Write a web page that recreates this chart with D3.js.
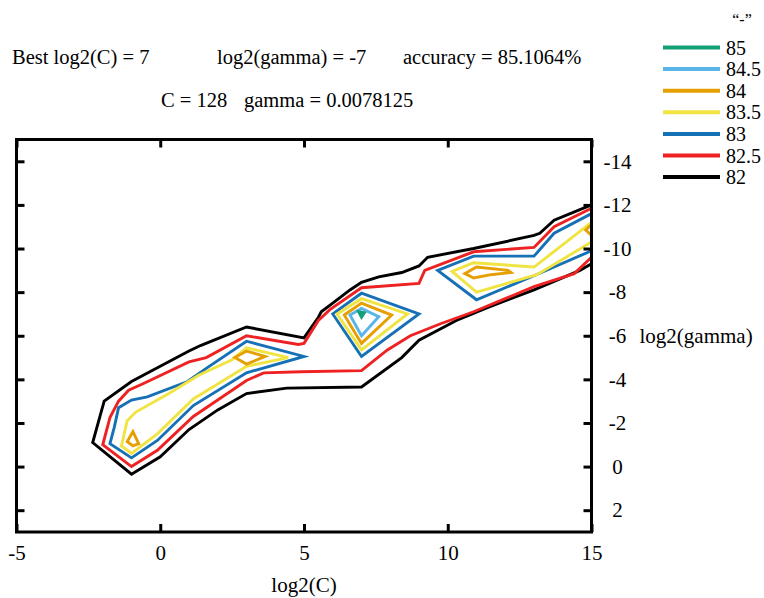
<!DOCTYPE html>
<html>
<head>
<meta charset="utf-8">
<script src="https://cdn.jsdelivr.net/npm/d3@7"></script>
<style>
  body { margin: 0; background: #fff; }
  svg text { font-family: "Liberation Serif", "Times New Roman", serif !important; fill: #000; }
</style>
</head>
<body>
<div class="chart"></div>
<script>
// contour levels (accuracy %) as listed in the key, with their colours
const levels = ["85", "84.5", "84", "83.5", "83", "82.5", "82"];
const levelColors = ["#13a077", "#59b4e8", "#e69f00", "#f0e442", "#1670b6", "#ee2222", "#000000"];
const legendTitle = "\u201c-\u201d";

// best point of the grid search
const bestLog2C = 7, bestLog2Gamma = -7, bestAccuracy = "85.1064%";
const bestC = 128, bestGamma = 0.0078125;

const xTicks = [-5, 0, 5, 10, 15];
const yTicks = [-14, -12, -10, -8, -6, -4, -2, 0, 2];

// contour paths, points are [log2(C), log2(gamma)]
const line82 = [[15,-12.0],[13.7,-11.3],[13.2,-10.7],[13,-10.6],[10.9,-10.0],[9.3,-9.6],[9,-9.2],[8.4,-8.9],
  [7.6,-8.7],[7,-8.45],[6.6,-8.1],[6,-7.5],[5.6,-7.1],[5.5,-6.85],[5,-5.9],[3,-6.4],[1.4,-5.55],[1,-5.3],
  [-1,-3.9],[-1.95,-3.0],[-2.35,-1.1],[-1,0.35],[0,-0.45],[1,-1.7],[2,-2.6],[3,-3.35],[4.4,-3.6],[7,-3.65],
  [8.4,-5.0],[9,-5.8],[10.3,-6.7],[11.4,-7.3],[13,-8.1],[14.6,-9.0],[15,-9.3]];
const line825 = [[15,-11.85],[13.7,-11],[13,-10.05],[10.9,-9.85],[9.2,-9],[9,-8.4],[7,-8.2],[5.9,-7.2],
  [5.5,-6.7],[5,-5.65],[4.8,-5.6],[3,-6],[1.6,-5],[1,-4.8],[-0.6,-3.8],[-1.1,-3.5],[-1.45,-3],[-1.75,-2.25],
  [-2,-1],[-1,0],[-0.1,-0.75],[1.15,-2.3],[3,-3.95],[3.6,-4.3],[4.9,-4.35],[7,-4.4],[7.9,-5.35],[8.7,-6],
  [9.75,-6.55],[10.9,-7.1],[13,-8.25],[14.4,-8.85],[15,-9.6]];
const loop83a = [[-1.75,-1.05],[-1.6,-1.8],[-1.45,-2.7],[-1,-3.05],[-0.45,-3.2],[0.95,-3.9],[1.65,-4.55],
  [3,-5.75],[5,-5.05],[3,-4.3],[1.15,-2.8],[-0.1,-1.2],[-1,-0.4]];
const loop83b = [[6,-7],[7,-7.95],[9,-7],[7,-5.05]];
const line83c = [[15,-11.6],[13.7,-10.7],[13,-9.65],[10.9,-9.65],[9.65,-9.0],[11,-7.65],[13,-8.75],[15,-9.9]];
const loop835a = [[-1.35,-0.95],[-1.15,-2.1],[-0.85,-2.5],[0.3,-3.35],[1.35,-4.2],[2.5,-4.9],[3,-5.45],
  [4.45,-5.0],[3,-4.6],[1.15,-3.1],[-0.1,-1.5],[-1,-0.6]];
const loop835b = [[6.15,-7],[7,-7.7],[8.6,-7],[7,-5.35]];
const line835c = [[15,-11.2],[13,-9.15],[10.9,-9.35],[10.15,-8.95],[11,-8.0],[13.1,-8.8],[15,-10.3]];
const loop84a = [[-0.95,-1.6],[-0.75,-1.05],[-0.95,-0.95],[-1.15,-1.15]];
const loop84b = [[2.6,-5.0],[3,-5.3],[3.65,-5.05],[3,-4.7]];
const loop84c = [[6.4,-6.95],[7,-7.5],[8.05,-6.95],[7,-5.65]];
const loop84d = [[10.6,-8.85],[11,-9.15],[12.1,-9.0],[12.2,-8.9],[11.5,-8.8],[10.9,-8.65]];
const line84e = [[15,-11.1],[14.8,-10.85],[15,-10.6]];
const loop845 = [[6.6,-6.95],[7,-7.25],[7.6,-6.87],[7,-6.0]];
const loop85 = [[6.9,-7.1],[7.1,-7.05],[7.0,-6.85]];

const contours = [
  { level: "82", points: line82, closed: false },
  { level: "82.5", points: line825, closed: false },
  { level: "83", points: loop83a, closed: true },
  { level: "83", points: loop83b, closed: true },
  { level: "83", points: line83c, closed: false },
  { level: "83.5", points: loop835a, closed: true },
  { level: "83.5", points: loop835b, closed: true },
  { level: "83.5", points: line835c, closed: false },
  { level: "84", points: loop84a, closed: true },
  { level: "84", points: loop84b, closed: true },
  { level: "84", points: loop84c, closed: true },
  { level: "84", points: loop84d, closed: true },
  { level: "84", points: line84e, closed: false },
  { level: "84.5", points: loop845, closed: true },
  { level: "85", points: loop85, closed: true }
];

var margin = { top: 139.5, right: 172.5, bottom: 66, left: 16.5 };
var width = 764 - margin.left - margin.right,
  height = 598 - margin.top - margin.bottom;

const svg = d3.select(".chart").append("svg")
  .attr("width", 764)
  .attr("height", 598)
  .style("display", "block");

svg.append("rect").attr("width", 764).attr("height", 598).attr("fill", "#fff");

const g = svg.append("g")
  .attr("transform", "translate(" + margin.left + "," + margin.top + ")");

const x = d3.scaleLinear().domain([-5, 15]).range([0, width]);
const y = d3.scaleLinear().domain([3, -15]).range([height, 0]);
const color = d3.scaleOrdinal().domain(levels).range(levelColors);

//////////////////////////////////////////////////////////////// contours
const lineOpen = d3.line().x(d => x(d[0])).y(d => y(d[1]));
const lineClosed = d3.line().x(d => x(d[0])).y(d => y(d[1])).curve(d3.curveLinearClosed);

// outer levels first so the inner ones sit on top
g.append("g").selectAll("path")
  .data(contours)
  .enter().append("path")
  .attr("d", d => (d.closed ? lineClosed : lineOpen)(d.points))
  .attr("fill", "none")
  .attr("stroke", d => color(d.level))
  .attr("stroke-width", 2.9)
  .attr("stroke-linejoin", "miter");

//////////////////////////////////////////////////////////////// axes + frame
function styleAxis(sel) {
  sel.select(".domain").remove();
  sel.selectAll(".tick line").attr("stroke", "#000").attr("stroke-width", 3);
  sel.attr("font-family", "Liberation Serif, serif").attr("font-size", 21);
  sel.selectAll(".tick text").style("font-family", "'Liberation Serif', serif");
}

g.append("g")
  .attr("transform", "translate(0," + height + ")")
  .call(d3.axisBottom(x).tickValues(xTicks).tickSizeInner(-8).tickSizeOuter(0)
    .tickPadding(13).tickFormat(d => String(d)))
  .call(styleAxis);

g.append("g")
  .call(d3.axisTop(x).tickValues(xTicks).tickSizeInner(-8).tickSizeOuter(0).tickFormat(""))
  .call(styleAxis);

g.append("g")
  .call(d3.axisLeft(y).tickValues(yTicks).tickSizeInner(-8).tickSizeOuter(0).tickFormat(""))
  .call(styleAxis);

const right = g.append("g")
  .attr("transform", "translate(" + width + ",0)")
  .call(d3.axisRight(y).tickValues(yTicks).tickSizeInner(-8).tickSizeOuter(0)
    .tickFormat(d => String(d)))
  .call(styleAxis);
right.selectAll(".tick text").attr("x", 26).attr("text-anchor", "middle");

g.append("rect")
  .attr("width", width)
  .attr("height", height)
  .attr("fill", "none")
  .attr("stroke", "#000")
  .attr("stroke-width", 3);

g.append("text")
  .attr("x", x(5))
  .attr("y", height + 60)
  .attr("text-anchor", "middle")
  .attr("font-size", 21)
  .text("log2(C)");

g.append("text")
  .attr("x", width + 48)
  .attr("y", y(-6) + 7)
  .attr("font-size", 21)
  .text("log2(gamma)");

//////////////////////////////////////////////////////////////// header
const header = svg.append("g").attr("font-size", 20.5);
header.append("text").attr("x", 12).attr("y", 64).text("Best log2(C) = " + bestLog2C);
header.append("text").attr("x", 217).attr("y", 64).text("log2(gamma) = " + bestLog2Gamma);
header.append("text").attr("x", 403).attr("y", 64).text("accuracy = " + bestAccuracy);
header.append("text").attr("x", 161).attr("y", 107).text("C = " + bestC);
header.append("text").attr("x", 244).attr("y", 107).text("gamma = " + bestGamma);

//////////////////////////////////////////////////////////////// legend
const legend = svg.append("g");
legend.append("text")
  .attr("x", 742).attr("y", 25)
  .attr("text-anchor", "middle")
  .attr("font-size", 16)
  .text(legendTitle);

const item = legend.selectAll(".item")
  .data(levels)
  .enter().append("g")
  .attr("class", "item")
  .attr("transform", (d, i) => "translate(0," + (47.5 + i * 21.6) + ")");
item.append("line")
  .attr("x1", 663).attr("x2", 720)
  .attr("stroke", d => color(d))
  .attr("stroke-width", 4);
item.append("text")
  .attr("x", 726).attr("y", 7)
  .attr("font-size", 20)
  .text(d => d);
</script>
</body>
</html>
